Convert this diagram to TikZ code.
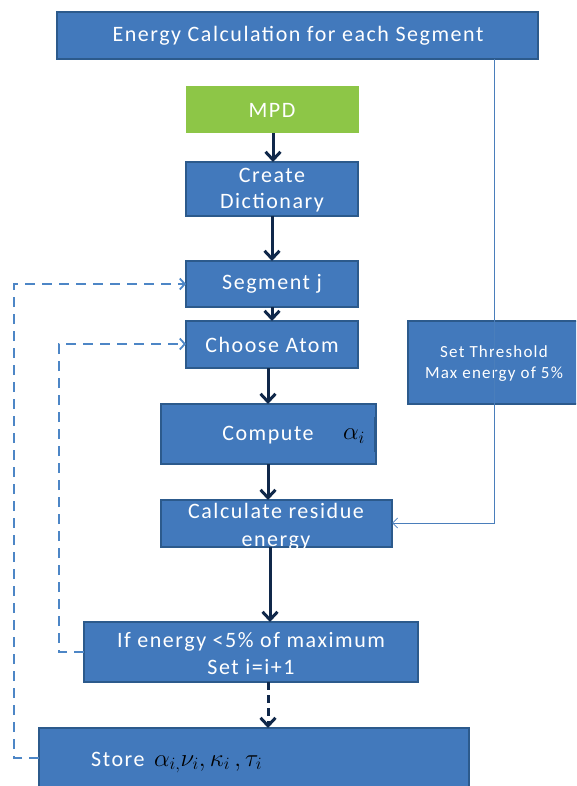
\documentclass[tikz,border=0pt]{standalone}
\usepackage{fontspec}
\setmainfont{Carlito}[LetterSpace=7]
\usetikzlibrary{arrows.meta}
\definecolor{boxblue}{HTML}{4279BC}
\definecolor{boxedge}{HTML}{2C5A8C}
\definecolor{mpdgreen}{HTML}{8DC647}
\definecolor{navy}{HTML}{10284A}
\definecolor{dashblue}{HTML}{4D86C6}
\definecolor{thinblue}{HTML}{4A7EBB}
\tikzset{
  blk/.style={draw=boxedge, line width=1.8pt, fill=boxblue},
  lbl/.style={text=white, inner sep=0pt, font=\fontsize{22}{26}\selectfont},
  flow/.style={draw=navy, line width=3pt, -{Straight Barb[length=8pt,width=15pt,line width=3pt]}},
  loop/.style={draw=dashblue, line width=2.6pt, dash pattern=on 10pt off 7pt, -{Straight Barb[length=5pt,width=11pt,line width=1.8pt]}},
  thin/.style={draw=thinblue, line width=1pt, -{Straight Barb[length=5pt,width=10pt,line width=0.8pt]}},
}
\begin{document}
\begin{tikzpicture}[x=1pt,y=-1pt]
\useasboundingbox (0,0) rectangle (576,786);
\clip (0,0) rectangle (576,786);
% boxes
\draw[blk] (57,12) rectangle (538,59);
\node[lbl] (top) at (298,36) {Energy Calculation for each Segment};
\coordinate (topb) at (494,59);
\fill[mpdgreen] (186,86) rectangle (359,133);
\node[lbl] (mpd) at (272,110) {MPD};
\draw[blk] (186,162) rectangle (358,216);
\node[lbl, align=center, font=\fontsize{22}{26}\selectfont] (dict) at (272,190) {Create\\Dictionary};
\draw[blk] (186,261) rectangle (358,307);
\node[lbl] (seg) at (272,284) {Segment j};
\draw[blk] (186,321) rectangle (358,368);
\node[lbl] (atom) at (272,345) {Choose Atom};
\draw[blk] (161,404) rectangle (376,464);
\draw[boxedge, line width=2.5pt] (375,417) -- (375,452);
\node[lbl] (comp) at (268,435) {Compute};
\node[text=black, inner sep=0pt, font=\fontsize{25}{28}\selectfont] (alpha) at (354,436) {$\alpha_i$};
\draw[blk] (161,500) rectangle (392,547);
\node[lbl, align=center, font=\fontsize{22}{28}\selectfont] (calc) at (276,527) {Calculate residue\\energy};
\draw[blk] (84,622) rectangle (418,682);
\node[lbl, align=center, font=\fontsize{22}{27}\selectfont] (ifen) at (251,654) {If energy <5\% of maximum\\Set i=i+1};
\draw[blk] (39,728) rectangle (469,800);
\node[lbl, anchor=base west] (store) at (91,766) {Store};
\node[text=black, inner sep=0pt, anchor=base west, font=\fontsize{25}{28}\selectfont] (storemath) at (154,766) {$\alpha_{i,}\nu_i,\kappa_i\,,\tau_i$};
\draw[blk] (408,321) rectangle (590,404);
\node[lbl, align=center, font=\fontsize{17}{21}\selectfont] (thr) at (494,364) {Set Threshold\\Max energy of 5\%};
% solid flow arrows
\draw[flow] (273,133) -- (273,162);
\draw[flow] (272,216) -- (272,261);
\draw[flow] (272,307) -- (272,321);
\draw[flow] (268,368) -- (268,404);
\draw[flow] (268,464) -- (268,500);
\draw[flow] (270,547) -- (270,622);
\draw[flow, dash pattern=on 8pt off 5pt] (268,682) -- (268,728);
% dashed loops
\draw[loop] (84,652) -- (59,652) -- (59,344) -- (186,344);
\draw[loop] (39,758) -- (14,758) -- (14,284) -- (186,284);
% threshold line
\draw[thin] (topb) -- (494,523) -- (392,523);
\end{tikzpicture}
\end{document}
